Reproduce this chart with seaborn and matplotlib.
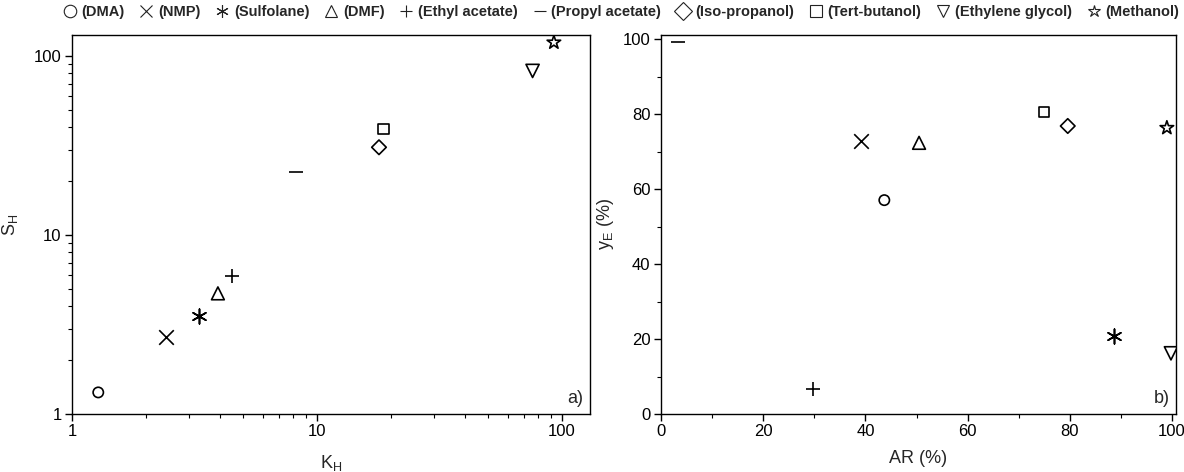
import matplotlib
matplotlib.use("Agg")
import matplotlib.pyplot as plt
from matplotlib.lines import Line2D
from matplotlib.ticker import LogLocator, NullFormatter, MultipleLocator, FixedLocator, FixedFormatter
import seaborn as sns
import pandas as pd

sns.set_theme(style="white")
plt.rcParams["font.family"] = ["Liberation Sans", "DejaVu Sans"]
plt.rcParams["mathtext.fontset"] = "custom"
plt.rcParams["mathtext.rm"] = "Liberation Sans"
plt.rcParams["mathtext.it"] = "Liberation Sans"

# Solvents and their plotting symbols
solvents = ["DMA", "NMP", "Sulfolane", "DMF", "Ethyl acetate", "Propyl acetate",
            "Iso-propanol", "Tert-butanol", "Ethylene glycol", "Methanol"]
markers = ["o", "x", (6, 2, 0), "^", "+", "_", "D", "s", "v", "*"]
sizes = [55, 110, 110, 85, 105, 100, 55, 55, 90, 105]

# Panel a) Henry constant vs selectivity (log-log)
k_h = [1.28, 2.42, 3.29, 3.94, 4.49, 8.19, 17.9, 18.7, 75.8, 92.6]
s_h = [1.32, 2.68, 3.54, 4.72, 5.90, 22.6, 30.9, 39.1, 82.5, 119.0]

# Panel b) Aromatics recovery vs extract yield
ar = [43.7, 39.2, 88.7, 50.5, 29.8, 3.3, 79.6, 74.9, 99.8, 99.0]
y_e = [57.1, 72.9, 20.9, 72.4, 6.7, 99.2, 76.9, 80.7, 16.2, 76.4]

df = pd.DataFrame({"solvent": solvents, "K_H": k_h, "S_H": s_h, "AR": ar, "y_E": y_e})

fig = plt.figure(figsize=(11.84, 4.72), dpi=100)
ax_a = fig.add_axes([0.0608, 0.1229, 0.4375, 0.8030])
ax_b = fig.add_axes([0.5583, 0.1229, 0.4350, 0.8030])


def draw_points(ax, xcol, ycol):
    for name, m, s in zip(solvents, markers, sizes):
        sub = df[df["solvent"] == name]
        filled = matplotlib.markers.MarkerStyle(m).is_filled()
        kw = dict(marker=m, s=s, linewidth=1.2, zorder=3, legend=False)
        if filled:
            kw.update(facecolor="none", edgecolor="black")
        else:
            kw.update(color="black")
        sns.scatterplot(data=sub, x=xcol, y=ycol, ax=ax, **kw)


draw_points(ax_a, "K_H", "S_H")
draw_points(ax_b, "AR", "y_E")

for ax in (ax_a, ax_b):
    for sp in ax.spines.values():
        sp.set_visible(True)
        sp.set_color("black")
        sp.set_linewidth(1.0)
    ax.tick_params(which="major", direction="out", length=5, width=1.0,
                   colors="black", labelsize=12, bottom=True, left=True, pad=2.5)
    ax.tick_params(which="minor", direction="out", length=3, width=0.8,
                   colors="black", bottom=True, left=True)
    ax.grid(False)

# Panel a axes
ax_a.set_xscale("log")
ax_a.set_yscale("log")
ax_a.set_xlim(1, 130)
ax_a.set_ylim(1, 131)
ax_a.xaxis.set_major_locator(FixedLocator([1, 10, 100]))
ax_a.xaxis.set_major_formatter(FixedFormatter(["1", "10", "100"]))
ax_a.yaxis.set_major_locator(FixedLocator([1, 10, 100]))
ax_a.yaxis.set_major_formatter(FixedFormatter(["1", "10", "100"]))
ax_a.xaxis.set_minor_locator(LogLocator(base=10, subs=range(2, 10)))
ax_a.yaxis.set_minor_locator(LogLocator(base=10, subs=range(2, 10)))
ax_a.xaxis.set_minor_formatter(NullFormatter())
ax_a.yaxis.set_minor_formatter(NullFormatter())
ax_a.set_xlabel(r"K$_\mathregular{H}$", fontsize=13)
ax_a.set_ylabel(r"S$_\mathregular{H}$", fontsize=13)
ax_a.xaxis.set_label_coords(0.5, -0.104)
ax_a.yaxis.set_label_coords(-0.1, 0.5)
ax_a.text(0.987, 0.018, "a)", transform=ax_a.transAxes, ha="right", va="bottom", fontsize=13)

# Panel b axes
ax_b.set_xlim(0, 100.8)
ax_b.set_ylim(0, 101.2)
ax_b.xaxis.set_major_locator(MultipleLocator(20))
ax_b.xaxis.set_minor_locator(MultipleLocator(10))
ax_b.yaxis.set_major_locator(MultipleLocator(20))
ax_b.yaxis.set_minor_locator(MultipleLocator(10))
ax_b.set_xlabel("AR (%)", fontsize=13)
ax_b.set_ylabel(r"y$_\mathregular{E}$ (%)", fontsize=13)
ax_b.xaxis.set_label_coords(0.5, -0.095)
ax_b.yaxis.set_label_coords(-0.088, 0.5)
ax_b.text(0.987, 0.018, "b)", transform=ax_b.transAxes, ha="right", va="bottom", fontsize=13)

# Shared symbol key across the top
handles = []
for name, m in zip(solvents, markers):
    handles.append(Line2D([], [], linestyle="none", marker=m, markersize=9,
                          markerfacecolor="none", markeredgecolor="#222222",
                          color="#222222", markeredgewidth=0.8))
fig.legend(handles, [f"({n})" for n in solvents], loc="upper center",
           bbox_to_anchor=(0.5245, 1.01), ncol=10, frameon=False,
           prop={"weight": "bold", "size": 10.5}, handlelength=0.9,
           handletextpad=0.35, columnspacing=1.05, borderpad=0.2)

fig.savefig("out.png", dpi=100)
